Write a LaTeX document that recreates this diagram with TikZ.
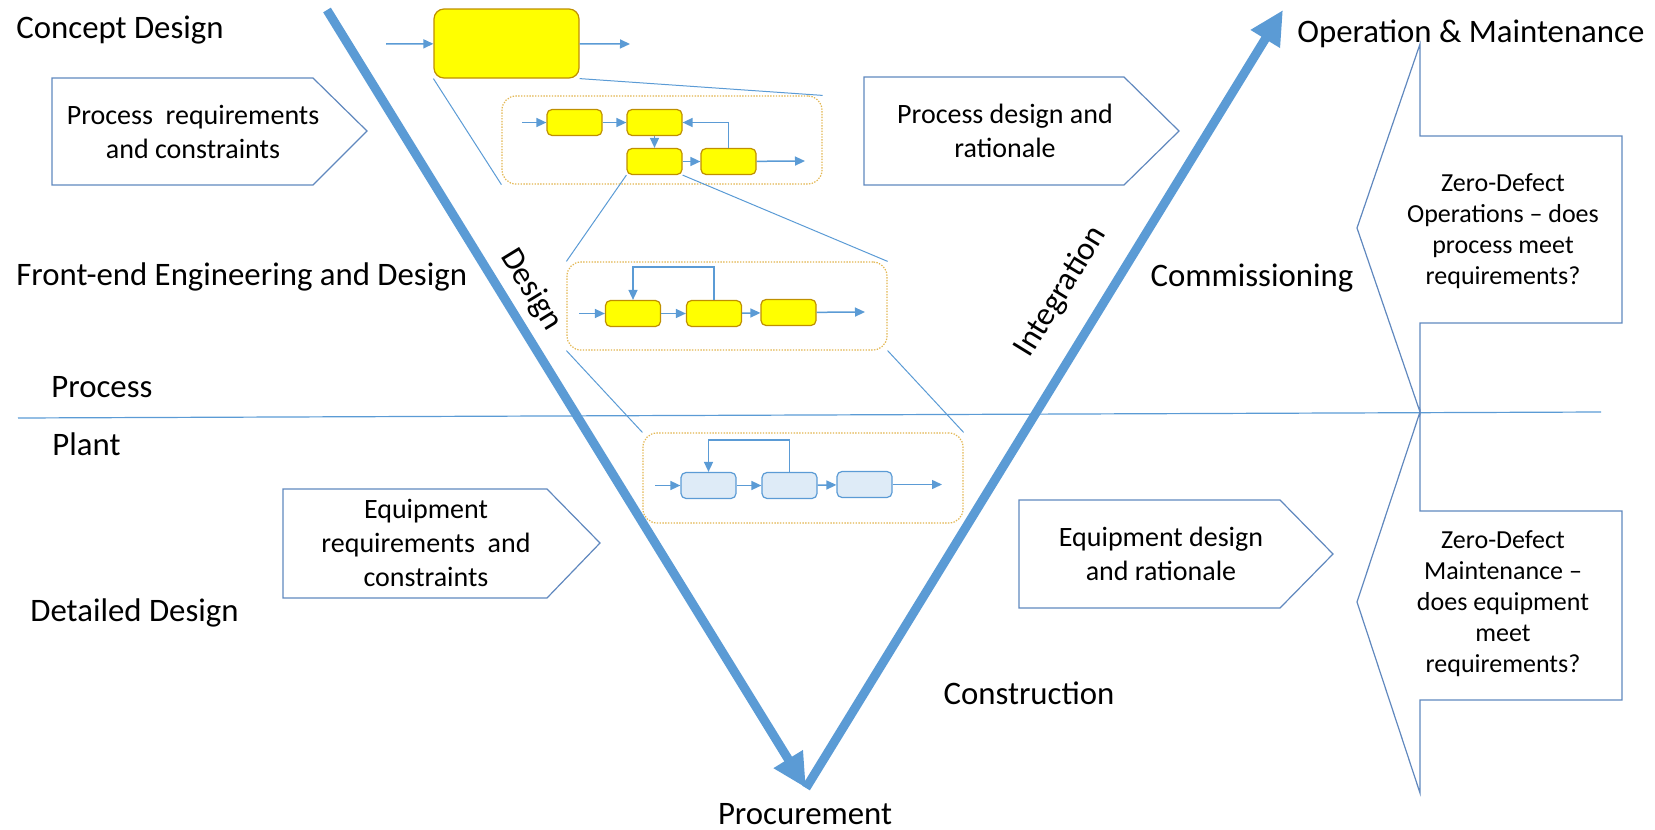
\documentclass[tikz,border=0pt]{standalone}
\usepackage{fontspec}
\setmainfont{Carlito}
\usetikzlibrary{positioning, arrows.meta}

\definecolor{vblue}{RGB}{91,155,213}
\definecolor{boxline}{RGB}{96,136,190}
\definecolor{ygold}{RGB}{191,144,0}
\definecolor{framegold}{RGB}{226,182,80}
\definecolor{paleblue}{RGB}{222,235,247}
\definecolor{pureyellow}{RGB}{255,255,0}

\begin{document}
\begin{tikzpicture}[x=0.5pt, y=-0.5pt,
        vline/.style={line width=4.5pt, vblue, -{Triangle[width=16pt, length=17pt]}},
        flow/.style={vblue, line width=0.75pt, -{Triangle[width=4.5pt, length=5pt]}},
        link/.style={vblue, line width=0.5pt},
        ybox/.style={draw=ygold, fill=pureyellow, line width=0.6pt, rounded corners=2.5pt,
            minimum width=27.5pt, minimum height=13pt, inner sep=0pt},
        bbox/.style={ybox, draw=vblue, fill=paleblue},
        frame/.style={draw=framegold, line width=0.6pt, dash pattern=on 0.7pt off 0.7pt,
            rounded corners=7pt, minimum width=160pt, minimum height=44pt, inner sep=0pt},
        pent/.style={draw=boxline, line width=0.6pt},
        lbl/.style={font=\fontsize{16.4}{19}\selectfont, inner sep=0pt},
        btxt/.style={font=\fontsize{14}{17}\selectfont, align=center, inner sep=0pt},
        ztxt/.style={font=\fontsize{13}{15.5}\selectfont, align=center, inner sep=0pt}]

    \useasboundingbox (0,0) rectangle (1655,830);

    % process / plant divide
    \coordinate (divl) at (18,418);
    \coordinate (divr) at (1601,412);
    \draw [link, line width=0.6pt] (divl) -- (divr);

    % the V
    \coordinate (vtl) at (327,10);
    \coordinate (vbot) at (806,788);
    \coordinate (vtr) at (1283,10);
    \draw [vline] (vtl) -- (vbot);
    \draw [vline] (vbot) -- (vtr);

    \node (design) [lbl, rotate=-58.5] at (531,290) {Design};
    \node (integ) [lbl, rotate=58.5] at (1061,292) {Integration};

    % stage labels
    \node (concept) [lbl, anchor=west] at (16,30) {Concept Design};
    \node (feed) [lbl, anchor=west] at (16,277) {Front-end Engineering and Design};
    \node (process) [lbl, anchor=west] at (51,387) {Process};
    \node (plant) [lbl, anchor=west] at (52,444) {Plant};
    \node (detail) [lbl, anchor=west] at (30,613) {Detailed Design};
    \node (procure) [lbl] at (805,814) {Procurement};
    \node (construct) [lbl] at (1029,693) {Construction};
    \node (commiss) [lbl] at (1252,278) {Commissioning};
    \node (opmaint) [lbl, anchor=west] at (1297,34) {Operation \& Maintenance};

    % requirement / rationale arrows
    \draw [pent] (52,78) -- (313,78) -- (367,131) -- (313,185) -- (52,185) -- cycle;
    \node (preq) [btxt] at (193,132) {Process\ \ requirements\\and constraints};
    \draw [pent] (864,77) -- (1124,77) -- (1179,131) -- (1124,185) -- (864,185) -- cycle;
    \node (prat) [btxt] at (1005,131) {Process design and\\rationale};
    \draw [pent] (283,489) -- (547,489) -- (600,543) -- (547,598) -- (283,598) -- cycle;
    \node (ereq) [btxt] at (426,543) {Equipment\\requirements\ \ and\\constraints};
    \draw [pent] (1019,500) -- (1280,500) -- (1333,554) -- (1280,608) -- (1019,608) -- cycle;
    \node (erat) [btxt] at (1161,554) {Equipment design\\and rationale};

    % zero-defect callouts
    \draw [pent] (1420,44) -- (1420,136) -- (1622,136) -- (1622,323) -- (1420,323)
        -- (1420,412) -- (1357,228) -- cycle;
    \node (zdops) [ztxt] at (1503,231) {Zero-Defect\\Operations -- does\\process meet\\requirements?};
    \draw [pent] (1420,412) -- (1420,511) -- (1622,511) -- (1622,700) -- (1420,700)
        -- (1420,793) -- (1357,602) -- cycle;
    \node (zdmaint) [ztxt] at (1503,604) {Zero-Defect\\Maintenance --\\does equipment\\meet\\requirements?};

    % concept level
    \node (a) [ybox, minimum width=72.5pt, minimum height=34.5pt, rounded corners=5pt] at (506.5,43.5) {};
    \coordinate (ain) at (386,44);
    \coordinate (aout) at (630,44);
    \draw [flow] (ain) -- (a);
    \draw [flow] (a) -- (aout);

    % process flow, first zoom
    \node (f1) [frame] at (662,140) {};
    \node (b1) [ybox] at (574.5,122.5) {};
    \node (b2) [ybox] at (654.5,122.5) {};
    \node (b3) [ybox] at (654.5,161.5) {};
    \node (b4) [ybox] at (728.5,161.5) {};
    \coordinate (bin) at (522,122.5);
    \coordinate (bout) at (805,161);
    \draw [flow] (bin) -- (b1);
    \draw [flow] (b1) -- (b2);
    \draw [flow] (b2) -- (b3);
    \draw [flow] (b3) -- (b4);
    \draw [flow] (b4) -- (bout);
    \draw [flow] (b4.north) |- (b2.east);

    % process flow, second zoom
    \node (f2) [frame] at (727,306) {};
    \node (c1) [ybox] at (633,313.5) {};
    \node (c2) [ybox] at (714,313.5) {};
    \node (c3) [ybox] at (788.5,312.5) {};
    \coordinate (cin) at (579,313.5);
    \coordinate (cout) at (865,312);
    \draw [flow] (cin) -- (c1);
    \draw [flow] (c1) -- (c2);
    \draw [flow] (c2) -- (c3);
    \draw [flow] (c3) -- (cout);
    \draw [flow] (c2.north) -- ++(0,-33) -| (c1.north);

    % plant level
    \node (f3) [frame, minimum height=45pt] at (803,478) {};
    \node (d1) [bbox] at (708.5,485.5) {};
    \node (d2) [bbox] at (789.5,485.5) {};
    \node (d3) [bbox] at (864.5,484.5) {};
    \coordinate (din) at (655,485.5);
    \coordinate (dout) at (942,484.5);
    \draw [flow] (din) -- (d1);
    \draw [flow] (d1) -- (d2);
    \draw [flow] (d2) -- (d3);
    \draw [flow] (d3) -- (dout);
    \draw [flow] (d2.north) -- ++(0,-32) -| (d1.north);

    % zoom lines
    \draw [link] (a.south west) -- (f1.south west);
    \draw [link] (a.south east) -- (f1.north east);
    \draw [link] (b3.south west) -- (f2.north west);
    \draw [link] (b3.south east) -- (f2.north east);
    \draw [link] (f2.south west) -- (f3.north west);
    \draw [link] (f2.south east) -- (f3.north east);
\end{tikzpicture}
\end{document}
